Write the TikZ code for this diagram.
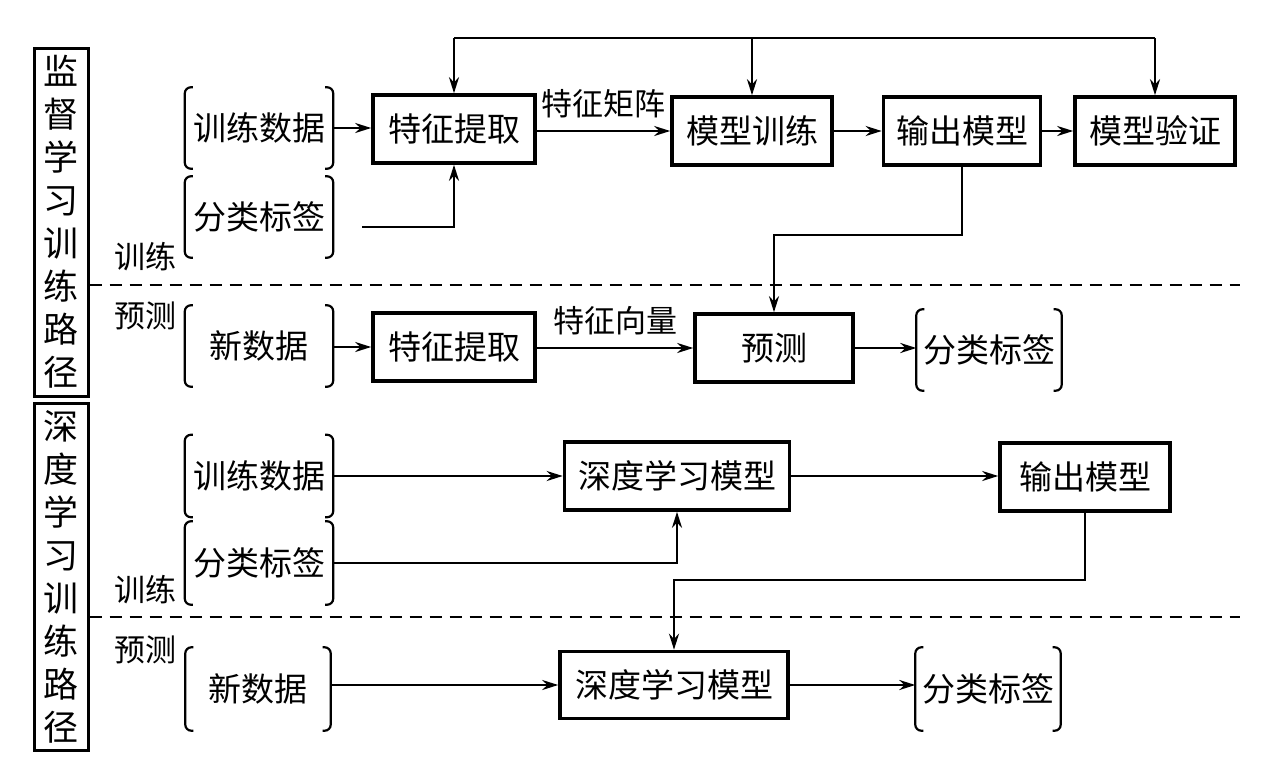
\documentclass[tikz,border=0pt]{standalone}
\usepackage{fontspec}
\setmainfont{Noto Sans CJK SC}
\usetikzlibrary{positioning,arrows.meta}

\begin{document}
\begin{tikzpicture}[x=1pt,y=-1pt,>={Stealth[length=16pt,width=10pt]},
  box/.style={draw,line width=3.6pt,inner sep=0pt,minimum height=68pt,font=\fontsize{33}{33}\selectfont},
  brk/.style={inner sep=0pt,minimum width=148pt,minimum height=81pt,font=\fontsize{33}{33}\selectfont},
  side/.style={draw,line width=3pt,minimum width=54pt,inner sep=0pt,align=center,font=\fontsize{35}{43}\selectfont},
  tag/.style={inner sep=0pt,font=\fontsize{31}{31}\selectfont},
  flow/.style={->,line width=2.5pt},
  bar/.style={line width=2.2pt,rounded corners=6pt},
  cut/.style={dash pattern=on 12pt off 8pt,line width=2.6pt}]
\useasboundingbox (0,0) rectangle (1280,766);

% left frames
\node[side,minimum height=348pt] (sup)  at (61,222) {监\\督\\学\\习\\训\\练\\路\\径};
\node[side,minimum height=347pt] (deep) at (61,577) {深\\度\\学\\习\\训\\练\\路\\径};
\coordinate (cutA) at (1240,285);
\coordinate (cutB) at (1240,617);
\draw[cut] (sup.east |- cutA) -- (cutA);
\draw[cut] (deep.east |- cutB) -- (cutB);
\node[tag] (trA) at (145,257) {训练};
\node[tag] (prA) at (145,316) {预测};
\node[tag] (trB) at (145,590) {训练};
\node[tag] (prB) at (145,650) {预测};

% supervised: training
\node[brk] (td1) at (259,128) {训练数据};
\node[brk] (lb1) at (259,217) {分类标签};
\node[box,minimum width=162pt] (fe1) at (454,129) {特征提取};
\node[box,minimum width=160pt] (mt)  at (752,131) {模型训练};
\node[box,minimum width=157pt] (om1) at (962,131) {输出模型};
\node[box,minimum width=160pt] (mv)  at (1155,131) {模型验证};
\coordinate (lbA) at (362,227);
\coordinate (bus) at (0,38);
\coordinate (turnA) at (0,235);

\draw[flow] (td1.east) -- (td1.east -| fe1.west);
\draw[flow] (lbA) -| (fe1.south);
\draw[flow] (fe1.east |- mt.west) -- node[tag,above=12pt] {特征矩阵} (mt.west);
\draw[flow] (mt) -- (om1);
\draw[flow] (om1) -- (mv);
\draw[line width=2.5pt] (fe1.north |- bus) -- (mv.north |- bus);
\draw[flow] (fe1.north |- bus) -- (fe1.north);
\draw[flow] (mt.north |- bus) -- (mt.north);
\draw[flow] (mv.north |- bus) -- (mv.north);

% supervised: prediction
\node[brk] (nd1) at (259,346) {新数据};
\node[box,minimum width=162pt] (fe2) at (454,347) {特征提取};
\node[box,minimum width=158pt] (pr)  at (774,348) {预测};
\node[brk,minimum width=145pt] (out1) at (989,350) {分类标签};

\draw[flow] (om1.south) -- (om1.south |- turnA) -| (pr.north);
\draw[flow] (nd1.east |- fe2.west) -- (fe2.west);
\draw[flow] (fe2.east |- pr.west) -- node[tag,above=12pt] {特征向量} (pr.west);
\draw[flow] (pr.east) -- (pr.east -| out1.west);

% deep learning: training
\node[brk,minimum height=82pt] (td2) at (259,476) {训练数据};
\node[brk,minimum height=83pt] (lb2) at (259,563) {分类标签};
\node[box,minimum width=225pt] (dl1) at (677,476) {深度学习模型};
\node[box,minimum width=170pt] (om2) at (1085,477) {输出模型};
\coordinate (turnB) at (0,580);

\draw[flow] (td2.east) -- (td2.east -| dl1.west);
\draw[flow] (lb2.east) -| (dl1.south);
\draw[flow] (dl1.east) -- (dl1.east -| om2.west);

% deep learning: prediction
\node[brk,minimum width=145pt,minimum height=83pt] (nd2) at (258,689) {新数据};
\node[box,minimum width=228pt,minimum height=67pt] (dl2) at (674,685) {深度学习模型};
\node[brk,minimum width=145pt,minimum height=83pt] (out2) at (988,689) {分类标签};

\draw[flow] (om2.south) -- (om2.south |- turnB) -| (dl2.north);
\draw[flow] (nd2.east |- dl2.west) -- (dl2.west);
\draw[flow] (dl2.east) -- (dl2.east -| out2.west);

% brackets
\foreach \n in {td1,lb1,nd1,out1,td2,lb2,nd2,out2} {
  \draw[bar] ([xshift=8pt]\n.north west) -- (\n.north west) -- (\n.south west) -- ([xshift=8pt]\n.south west);
  \draw[bar] ([xshift=-8pt]\n.north east) -- (\n.north east) -- (\n.south east) -- ([xshift=-8pt]\n.south east);
}
\end{tikzpicture}
\end{document}
